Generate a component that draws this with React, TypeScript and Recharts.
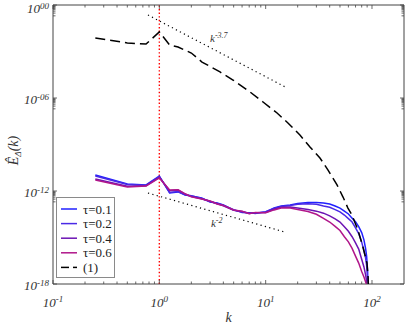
import React from "react";
import { LineChart, Line, XAxis, YAxis, ReferenceLine, ReferenceArea, ReferenceDot } from "recharts";

// ---------- data (log10 of spectrum values) ----------
const kGrid = [0.25, 0.5, 0.75, 1, 1.25, 1.5, 1.75, 2, 2.5, 3, 3.5, 4, 5, 6, 7, 8, 10, 12, 14, 17, 20, 25, 30, 35, 40, 45, 50, 55, 60, 65, 70, 75, 80, 84, 87, 89, 90, 91, 92];

const tau01 = [-10.97, -11.55, -11.61, -11.03, -12.13, -12.06, -12.26, -12.32, -12.45, -12.71, -12.77, -12.9, -13.23, -13.35, -13.42, -13.42, -13.35, -13.1, -12.97, -12.9, -12.8, -12.74, -12.74, -12.77, -12.84, -12.97, -13.1, -13.3, -13.48, -13.75, -13.98, -14.3, -14.68, -15.15, -15.7, -16.2, -16.7, -17.2, -19.5];
const tau02 = [-11.03, -11.58, -11.63, -11.06, -12.1, -12.03, -12.24, -12.3, -12.48, -12.68, -12.8, -12.92, -13.2, -13.38, -13.4, -13.45, -13.33, -13.13, -13.0, -12.93, -12.85, -12.82, -12.85, -12.97, -13.05, -13.2, -13.35, -13.55, -13.78, -14.0, -14.38, -14.75, -15.3, -15.85, -16.3, -16.8, -17.2, -17.8, -19.5];
const tau04 = [-11.22, -11.7, -11.66, -11.12, -11.98, -11.94, -12.2, -12.35, -12.5, -12.66, -12.82, -12.95, -13.25, -13.32, -13.45, -13.4, -13.38, -13.18, -13.05, -13.03, -13.1, -13.2, -13.3, -13.43, -13.6, -13.8, -14.0, -14.3, -14.6, -14.95, -15.35, -15.75, -16.4, -16.9, -17.4, -17.8, -18.1, -18.5, -19.5];
const tau06 = [-11.29, -11.74, -11.68, -11.16, -11.94, -11.92, -12.18, -12.38, -12.52, -12.64, -12.84, -12.93, -13.22, -13.3, -13.47, -13.38, -13.4, -13.22, -13.1, -13.1, -13.2, -13.32, -13.5, -13.76, -14.0, -14.28, -14.55, -14.95, -15.28, -15.7, -16.2, -16.65, -17.2, -17.55, -17.85, -18.05, -18.3, -18.8, -19.5];

const refK = [0.25, 0.5, 0.75, 1, 1.25, 1.5, 2, 2.52, 3.72, 4.93, 7.13, 9.45, 12.8, 16.2, 21, 26.1, 32.4, 38.6, 46.9, 53.4, 59.4, 64.8, 73.8, 82.2, 89.7, 92, 93];
const refLog = [-2.13, -2.45, -2.52, -1.74, -2.58, -2.71, -3.1, -3.68, -4.32, -4.84, -5.61, -6.26, -6.97, -7.61, -8.39, -9.16, -9.87, -10.65, -11.61, -12.39, -13.1, -13.55, -14.52, -15.61, -16.65, -17.6, -19.5];

const slopeHiK = [0.782, 15.9];
const slopeHiLog = [-0.645, -5.35];
const slopeLoK = [0.782, 15.2];
const slopeLoLog = [-12.13, -14.65];

const seriesNames = ["\u03c4=0.1", "\u03c4=0.2", "\u03c4=0.4", "\u03c4=0.6"];
const seriesColors = ["#2020ff", "#4a2ae6", "#6c14b4", "#b0168a"];
const seriesLogs = [tau01, tau02, tau04, tau06];
const refName = "(1)";

const xMajor = [0.1, 1, 10, 100];
const xMajorLabels = ["-1", "0", "1", "2"];
const xMinor = [0.2, 0.3, 0.4, 0.5, 0.6, 0.7, 0.8, 0.9, 2, 3, 4, 5, 6, 7, 8, 9, 20, 30, 40, 50, 60, 70, 80, 90];
const yMajor = [1, 1e-6, 1e-12, 1e-18];
const yMajorLabels = ["00", "-06", "-12", "-18"];
const yMinor = [0.2, 0.3, 0.4, 0.5, 0.6, 0.7, 0.8, 0.9, 2e-7, 3e-7, 4e-7, 5e-7, 6e-7, 7e-7, 8e-7, 9e-7, 2e-13, 3e-13, 4e-13, 5e-13, 6e-13, 7e-13, 8e-13, 9e-13];

// ---------- layout ----------
const W = 407;
const H = 324;
const PLOT_TOP = 5;
const PLOT_RIGHT = 404;
const AX = "#444";
const FONT = "'Liberation Serif', 'DejaVu Serif', serif";

const toPts = (ks: number[], logs: number[]) => ks.map((k, i) => ({ k, v: Math.pow(10, logs[i]) }));
const series = seriesLogs.map((l) => toPts(kGrid, l));
const refData = toPts(refK, refLog);
const slopeHi = toPts(slopeHiK, slopeHiLog);
const slopeLo = toPts(slopeLoK, slopeLoLog);

const isIn = (arr: number[], v: number) => arr.findIndex((a) => Math.abs(Math.log10(a) - Math.log10(v)) < 1e-6);

const serifItalic = { fontFamily: FONT, fontStyle: "italic" as const };

const XTick = (props: any) => {
  const { x, y, payload } = props;
  const mi = isIn(xMajor, payload.value);
  const len = mi >= 0 ? 4 : 2.5;
  return (
    <g>
      <line x1={x} x2={x} y1={y} y2={y - len} stroke={AX} strokeWidth={0.8} />
      <line x1={x} x2={x} y1={PLOT_TOP} y2={PLOT_TOP + len} stroke={AX} strokeWidth={0.8} />
      {mi >= 0 && (
        <text x={x} y={y + 23} textAnchor="middle" style={serifItalic} fontSize={13} fill="#333">
          10<tspan dy={-5} fontSize={9}>{xMajorLabels[mi]}</tspan>
        </text>
      )}
    </g>
  );
};

const YTick = (props: any) => {
  const { x, y, payload } = props;
  const mi = isIn(yMajor, payload.value);
  const len = mi >= 0 ? 4 : 2.5;
  const top = mi === 0;
  return (
    <g>
      <line x1={x} x2={x + len} y1={y} y2={y} stroke={AX} strokeWidth={0.8} />
      <line x1={PLOT_RIGHT} x2={PLOT_RIGHT - len} y1={y} y2={y} stroke={AX} strokeWidth={0.8} />
      {mi >= 0 && (
        <text x={x - 4} y={y + (top ? 8 : 6)} textAnchor="end" style={serifItalic} fontSize={13} fill="#333">
          10<tspan dy={-4.5} fontSize={9}>{yMajorLabels[mi]}</tspan>
        </text>
      )}
    </g>
  );
};

const YLabel = (props: any) => {
  const vb = props.viewBox || { x: 0, y: 5, width: 53, height: 279 };
  const cx = vb.x + 18;
  const cy = vb.y + vb.height / 2 + 6;
  return (
    <text x={cx} y={cy} transform={`rotate(-90, ${cx}, ${cy})`} textAnchor="middle" style={serifItalic} fontSize={14} fill="#333">
      {"\u00ca"}
      <tspan dy={3} fontSize={9}>{"\u0394"}</tspan>
      <tspan dy={-3}>(k)</tspan>
    </text>
  );
};

const XLabel = (props: any) => {
  const vb = props.viewBox || { x: 53, y: 284, width: 351, height: 40 };
  return (
    <text x={vb.x + vb.width / 2} y={vb.y + 38} textAnchor="middle" style={serifItalic} fontSize={14} fill="#333">
      k
    </text>
  );
};

const SlopeText = (label: string, sup: string) => (props: any) => (
  <text x={props.cx} y={props.cy} style={serifItalic} fontSize={11} fill="#333">
    {label}
    <tspan dy={-4} fontSize={8}>{sup}</tspan>
  </text>
);

const LegendBox = () => {
  const rows = [...seriesNames, refName];
  return (
    <div style={{ position: "absolute", left: 56, top: 197, width: 59, height: 81, boxSizing: "border-box", border: "1.5px solid #8a8a8a", background: "#fff" }}>
      <svg width={56} height={78} style={{ display: "block" }}>
        {rows.map((name, i) => {
          const cy = 11 + i * 14.6;
          const isRef = i === seriesNames.length;
          return (
            <g key={name}>
              {isRef ? (
                <g>
                  <line x1={4} x2={12} y1={cy} y2={cy} stroke="#000" strokeWidth={1.5} />
                  <line x1={16} x2={20} y1={cy} y2={cy} stroke="#000" strokeWidth={1.5} />
                </g>
              ) : (
                <line x1={4} x2={20} y1={cy} y2={cy} stroke={seriesColors[i]} strokeWidth={1.5} />
              )}
              <text x={26} y={cy + 4.5} style={{ fontFamily: FONT }} fontSize={13} fill="#222">
                {name}
              </text>
            </g>
          );
        })}
      </svg>
    </div>
  );
};

export default function App() {
  return (
    <div style={{ position: "absolute", left: 0, top: 0, width: W, height: H, background: "#fff" }}>
      <LineChart width={W} height={H} margin={{ top: 5, right: 3, bottom: 0, left: 0 }}>
        <XAxis
          dataKey="k"
          type="number"
          scale="log"
          domain={[0.1, 200]}
          allowDataOverflow
          ticks={[...xMajor, ...xMinor]}
          interval={0}
          tick={<XTick />}
          tickLine={false}
          axisLine={false}
          tickSize={0}
          tickMargin={0}
          height={40}
          label={<XLabel />}
        />
        <YAxis
          type="number"
          scale="log"
          domain={[1e-18, 1]}
          allowDataOverflow
          ticks={[...yMajor, ...yMinor]}
          interval={0}
          tick={<YTick />}
          tickLine={false}
          axisLine={false}
          tickSize={0}
          tickMargin={0}
          width={53}
          label={<YLabel />}
        />
        <ReferenceArea x1={0.1} x2={200} y1={1e-18} y2={1} fill="none" stroke={AX} strokeWidth={1} ifOverflow="visible" />
        <ReferenceLine x={1} stroke="#ff0000" strokeWidth={1.4} strokeDasharray="1.4 2.2" />
        <Line data={slopeHi} dataKey="v" stroke="#000" strokeWidth={1.2} strokeDasharray="1.2 3.3" dot={false} isAnimationActive={false} />
        <Line data={slopeLo} dataKey="v" stroke="#000" strokeWidth={1.2} strokeDasharray="1.2 3.3" dot={false} isAnimationActive={false} />
        {series.map((d, i) => (
          <Line key={seriesNames[i]} data={d} dataKey="v" name={seriesNames[i]} stroke={seriesColors[i]} strokeWidth={1.5} dot={false} isAnimationActive={false} />
        ))}
        <Line data={refData} dataKey="v" name={refName} stroke="#000" strokeWidth={1.5} strokeDasharray="10 5" dot={false} isAnimationActive={false} />
        <ReferenceDot x={3.0} y={Math.pow(10, -2.39)} r={0} shape={SlopeText("k", "-3.7")} ifOverflow="visible" />
        <ReferenceDot x={3.06} y={Math.pow(10, -14.32)} r={0} shape={SlopeText("k", "-2")} ifOverflow="visible" />
      </LineChart>
      <LegendBox />
    </div>
  );
}
